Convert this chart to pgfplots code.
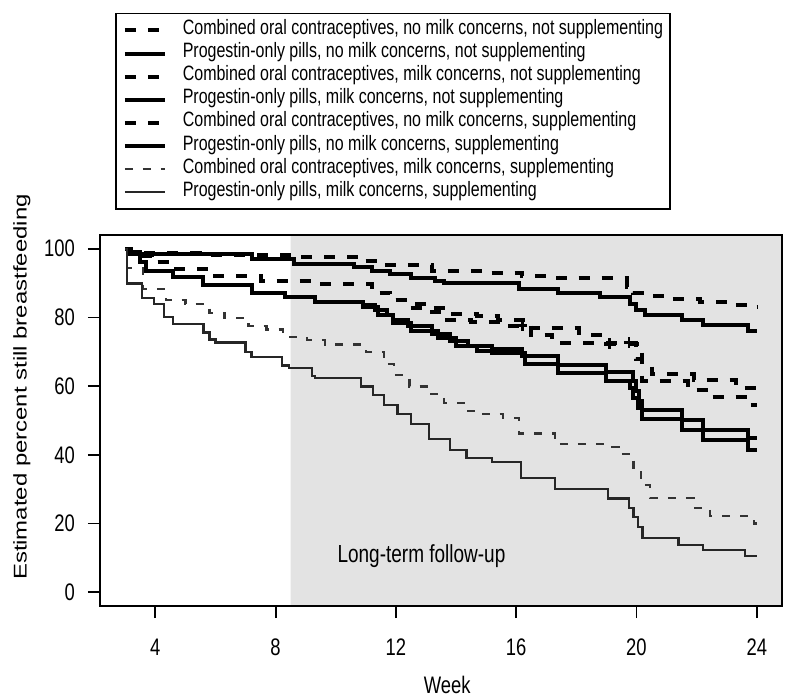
\documentclass[border=0pt]{standalone}
\usepackage{fontspec}
\setmainfont{Liberation Sans}
\usepackage{graphicx}
\usepackage{pgfplots}
\pgfplotsset{compat=1.18}

% the scan is stretched vertically, so is its text
\newcommand{\st}[1]{\scalebox{1}[1.3]{#1}}

\pgfplotsset{
    thickdash/.style={black, mark=none, line width=2pt, dash pattern=on 5.5pt off 6pt},
    thicksolid/.style={black, mark=none, line width=2pt},
    thindash/.style={black!80, mark=none, line width=1.1pt, dash pattern=on 4pt off 5pt},
    thinsolid/.style={black!85, mark=none, line width=1.1pt},
}

\begin{document}
\begin{tikzpicture}[x=1pt,y=1pt]
\path[use as bounding box] (-50,-45) rectangle (342.5,303);
\begin{axis}[
    at={(0,0)}, anchor=south west,
    scale only axis, width=341pt, height=185.5pt,
    xmin=2.16, xmax=24.84, ymin=-4, ymax=104,
    axis on top,
    axis line style={line width=1.1pt},
    tick pos=left, tick align=outside,
    xtick={4,8,...,24}, ytick={0,20,...,100},
    major tick length=6pt,
    tick style={line width=0.9pt, black},
    /pgf/number format/assume math mode=true,
    xticklabel={\st{\pgfmathprintnumber{\tick}}},
    yticklabel={\st{\pgfmathprintnumber{\tick}}},
    ticklabel style={font=\fontsize{9.2}{11}\selectfont},
    xticklabel style={yshift=-7pt},
    yticklabel style={xshift=-3pt},
    label style={font=\fontsize{9.2}{11}\selectfont},
    xlabel={\st{Week}},
    xlabel style={at={(axis description cs:0.509,-0.213)}, anchor=center},
    ylabel={\scalebox{1.3}[1]{Estimated percent still breastfeeding}},
    ylabel style={at={(axis description cs:-0.1144,0.59)}, anchor=center},
    legend cell align=left,
    legend style={at={(axis description cs:0.022,1)}, anchor=south west,
        yshift=12.5pt, draw=black, line width=0.8pt,
        inner xsep=3.5pt, inner ysep=4.5pt,
        font=\fontsize{8}{9.6}\selectfont,
        nodes={inner sep=0pt, text height=6pt, text depth=2pt},
        row sep=3.55pt, column sep=8pt},
    legend image code/.code={\draw[#1] (0pt,0pt) -- (20pt,0pt);},
    const plot,
]

% long-term follow-up period
\addplot[draw=none, fill=black!11, mark=none, forget plot] coordinates {
    (8.5,-4) (24.84,-4) (24.84,104) (8.5,104)} -- cycle;

\addplot[thickdash] coordinates {
    (3.0,100) (3.1,98.8) (5.5,98.3) (8.6,97.6) (10.8,96.3) (11.3,95.2)
    (13.2,93.5) (15.0,92.8) (16.2,92.2) (17.4,91.4) (19.7,89.0) (19.9,87.0)
    (20.3,86.3) (21.2,85.3) (22.1,84.6) (23.1,83.6) (23.7,82.9) (24,82.9)};
\addlegendentry{\st{Combined oral contraceptives, no milk concerns, not supplementing}}

\addplot[thicksolid] coordinates {
    (3.0,100) (3.1,99.0) (3.5,98.6) (7.2,97.0) (8.6,95.5) (10.6,94.6)
    (11.2,93.6) (11.8,92.6) (12.5,91.6) (13.3,90.6) (13.6,89.9) (16.1,88.4)
    (17.4,87.1) (18.8,85.9) (19.8,84.0) (20.0,82.3) (20.3,80.8) (21.5,79.3)
    (22.2,77.7) (23.7,76.0) (24,76.0)};
\addlegendentry{\st{Progestin-only pills, no milk concerns, not supplementing}}

\addplot[thickdash] coordinates {
    (3.0,100) (3.2,98.0) (3.9,96.0) (4.5,94.2) (6.0,92.2) (7.5,90.6)
    (9.1,89.8) (11.2,87.1) (11.8,85.0) (12.5,84.0) (13.2,81.6) (13.9,81.0)
    (14.7,80.3) (15.4,79.3) (16.5,76.8) (18.1,74.9) (19.0,72.4) (20.2,67.1)
    (20.5,63.6) (21.9,61.7) (23.3,59.4) (23.9,57.0) (24,57.0)};
\addlegendentry{\st{Combined oral contraceptives, milk concerns, not supplementing}}

\addplot[thicksolid] coordinates {
    (3.0,100) (3.1,98.4) (3.5,96.1) (3.7,93.5) (4.6,91.9) (5.6,89.4)
    (7.2,87.2) (8.3,85.9) (9.3,84.6) (10.9,83.7) (11.3,82.2) (11.7,80.7)
    (11.9,79.3) (12.4,77.5) (13.2,75.3) (13.8,73.2) (14.4,71.7) (15.2,70.7)
    (16.2,68.9) (17.4,66.1) (19.0,64.1) (19.9,61.4) (20.0,58.5) (20.1,55.6)
    (20.2,53.0) (21.5,50.2) (22.2,47.2) (23.7,45.0) (24,45.0)};
\addlegendentry{\st{Progestin-only pills, milk concerns, not supplementing}}

\addplot[thickdash] coordinates {
    (3.0,100) (3.2,98.0) (3.9,96.0) (4.5,94.2) (6.0,92.2) (7.5,90.6)
    (9.1,89.8) (11.2,87.1) (11.8,85.0) (12.4,82.7) (13.7,79.3) (14.5,78.6)
    (15.4,77.6) (16.5,74.8) (17.2,72.7) (20.0,68.0) (20.2,61.4) (21.7,58.8)
    (22.3,56.7) (23.8,54.5) (24,54.5)};
\addlegendentry{\st{Combined oral contraceptives, no milk concerns, supplementing}}

\addplot[thicksolid] coordinates {
    (3.0,100) (3.1,98.4) (3.5,96.1) (3.7,93.5) (4.6,91.9) (5.6,89.4)
    (7.2,87.2) (8.3,85.9) (9.3,84.6) (10.9,82.9) (11.4,80.8) (11.9,78.4)
    (12.5,76.0) (13.4,73.9) (14.0,71.8) (14.7,70.2) (15.2,69.6) (16.3,66.5)
    (17.4,63.8) (19.0,61.5) (19.8,59.4) (19.9,56.5) (20.05,53.6) (20.2,50.4)
    (21.5,47.3) (22.2,44.4) (23.7,41.5) (24,41.5)};
\addlegendentry{\st{Progestin-only pills, no milk concerns, supplementing}}

\addplot[thindash] coordinates {
    (3.0,100) (3.05,94.5) (3.6,88.3) (4.35,85.0) (5.0,83.8) (5.8,81.4)
    (6.3,79.9) (7.1,77.4) (7.7,76.5) (8.25,74.4) (9.05,73.4) (9.65,72.1)
    (11.0,69.9) (11.6,66.4) (11.95,63.2) (12.45,59.9) (13.1,57.8) (13.6,55.2)
    (14.25,52.8) (14.9,51.8) (15.55,50.8) (16.1,46.2) (17.3,43.1) (18.9,42.3)
    (19.4,40.2) (19.9,35.8) (20.15,31.2) (20.45,27.4) (21.9,24.6) (22.45,22.2)
    (23.9,20.0) (24,20.0)};
\addlegendentry{\st{Combined oral contraceptives, milk concerns, supplementing}}

\addplot[thinsolid] coordinates {
    (3.0,100) (3.05,89.9) (3.55,85.7) (3.95,83.9) (4.3,80.2) (4.6,78.1)
    (5.6,75.6) (5.8,73.6) (6.0,72.7) (7.0,70.0) (7.2,68.5) (8.2,66.0)
    (8.45,65.4) (9.2,63.0) (9.3,62.4) (10.85,59.9) (11.25,57.5) (11.6,54.6)
    (12.05,52.0) (12.5,49.0) (13.1,44.6) (13.8,41.3) (14.35,39.2) (15.2,38.0)
    (16.15,33.2) (17.3,30.1) (19.05,27.3) (19.75,24.6) (19.9,22.0) (20.05,19.1)
    (20.2,15.9) (21.4,13.7) (22.2,12.4) (23.6,10.5) (24,10.5)};
\addlegendentry{\st{Progestin-only pills, milk concerns, supplementing}}

% censoring marks
\addplot[only marks, mark=+, mark size=2.6pt, mark options={line width=1.4pt, solid, black}, forget plot]
    coordinates {(16.2,77.6) (19.1,72.4) (19.75,72.7)};

\node[font=\fontsize{9.5}{11}\selectfont] at (axis cs:12.85,10.4)
    {\st{Long-term follow-up}};
\end{axis}
\end{tikzpicture}
\end{document}
